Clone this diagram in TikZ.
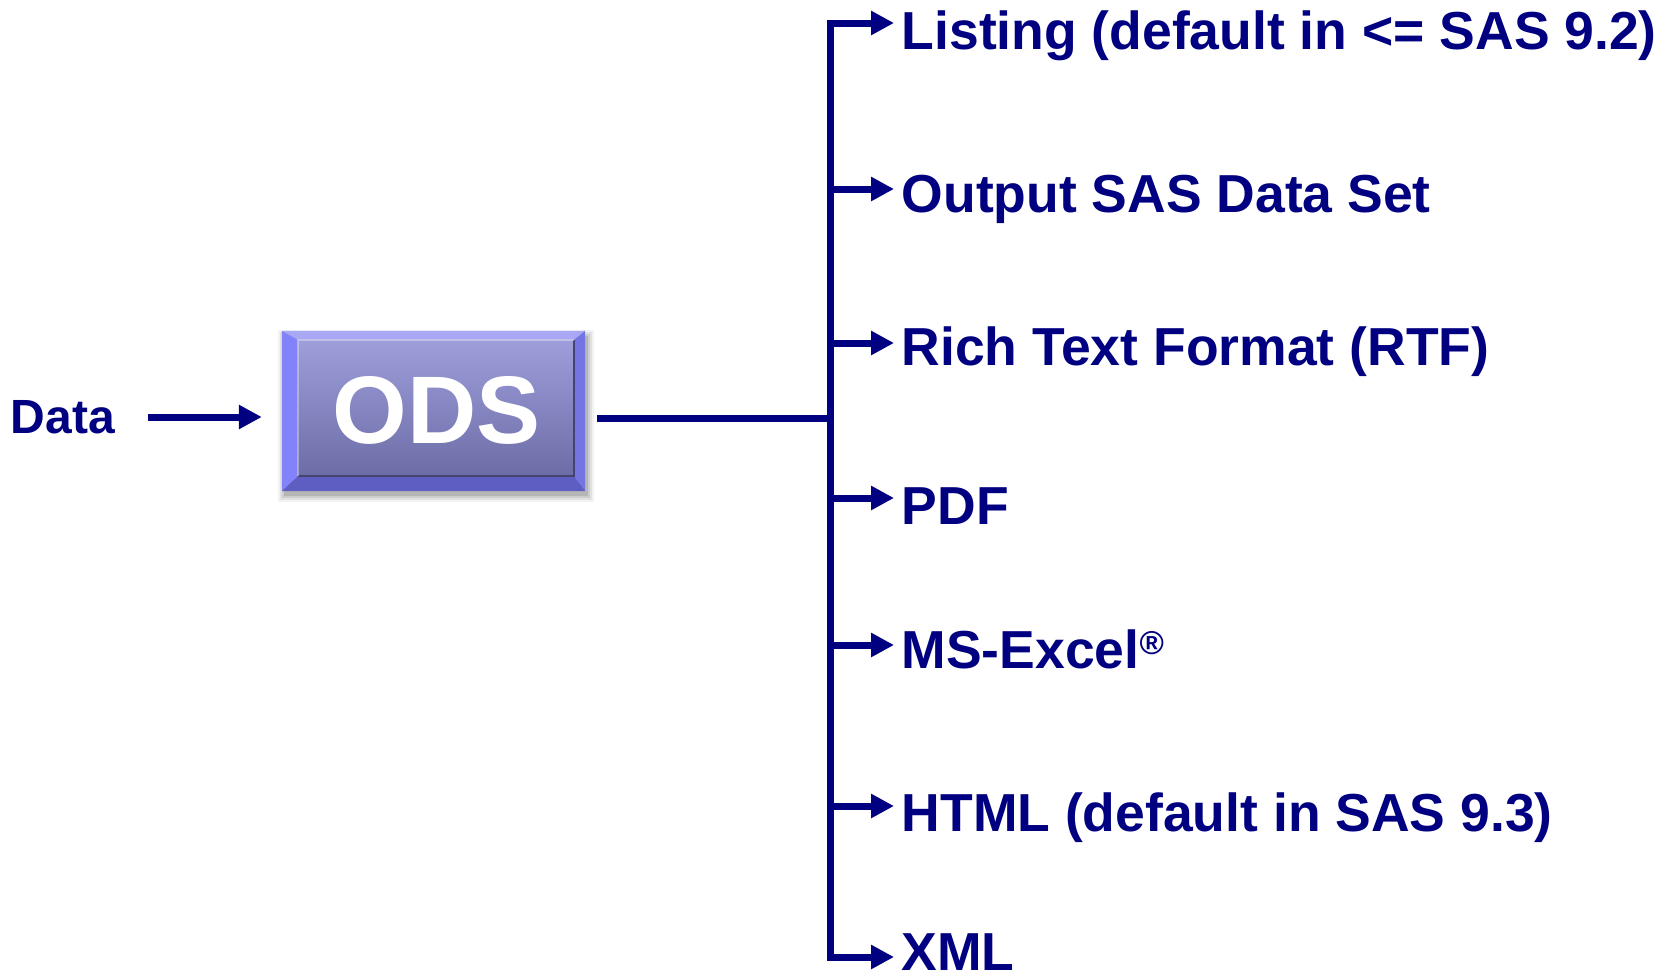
\documentclass[tikz,border=0pt]{standalone}
\usepackage{fontspec}
\setmainfont{Liberation Sans}
\usetikzlibrary{arrows.meta,backgrounds,calc}
\definecolor{navy}{RGB}{0,0,128}
\definecolor{bevtop}{HTML}{A8A8F4}
\definecolor{bevleft}{HTML}{8282FA}
\definecolor{bevright}{HTML}{7474E2}
\definecolor{bevbot}{HTML}{5E5EC2}
\definecolor{paneltop}{HTML}{9E9EDC}
\definecolor{panelbot}{HTML}{6C6CA6}
\definecolor{paneledge}{HTML}{44446E}
\begin{document}
\begin{tikzpicture}[x=1pt,y=-1pt,
  conn/.style={draw=navy, line width=7pt},
  tipend/.style={-{Triangle[length=23pt,width=23pt]}},
  outlabel/.style={anchor=west, inner xsep=7.5pt, inner ysep=0pt,
    text height=#1, text depth=0pt,
    font=\fontsize{53.5}{60}\selectfont\bfseries, text=navy},
  outlabel/.default=52pt,
  datalabel/.style={anchor=west, inner sep=0pt, text height=32pt, text depth=0pt,
    font=\fontsize{48}{52}\selectfont\bfseries, text=navy},
  odsbox/.style={minimum width=303pt, minimum height=160pt, inner sep=0pt,
    text height=69pt, text depth=4pt,
    font=\fontsize{96}{100}\selectfont\bfseries, text=white},
]
\useasboundingbox (0,0) rectangle (1671,975);

% nodes
\node[datalabel] (data) at (10.5,417) {Data};
\node[odsbox] (ods) at (433.5,411) {\hspace*{7pt}ODS};
\coordinate (hub) at (830,418);

\node[outlabel=52pt] (t1) at (894,23) {Listing (default in <= SAS 9.2)};
\node[outlabel=46pt] (t2) at (894,189) {Output SAS Data Set};
\node[outlabel=44pt] (t3) at (894,343) {Rich Text Format (RTF)};
\node[outlabel=52pt] (t4) at (894,498) {PDF};
\node[outlabel=46pt] (t5) at (894,645) {MS-Excel\raisebox{14pt}{\fontsize{33}{33}\selectfont ®}};
\node[outlabel=50pt] (t6) at (894,806) {HTML (default in SAS 9.3)};
\node[outlabel=26pt] (t7) at (894,957) {XML};

% ODS box rendering
\begin{scope}[on background layer]
  \foreach \e/\o in {6/0.05,4/0.07,2/0.09,0/0.11}{
    \fill[black, opacity=\o]
      ($(ods.north west)+(2-\e,5-\e)$) rectangle ($(ods.south east)+(3+\e,5+\e)$);
  }
  \coordinate (oA) at (ods.north west);
  \coordinate (oB) at (ods.north east);
  \coordinate (oC) at (ods.south east);
  \coordinate (oD) at (ods.south west);
  \coordinate (ia) at ($(ods.north west)+(16,9)$);
  \coordinate (ib) at ($(ods.north east)+(-11,9)$);
  \coordinate (ic) at ($(ods.south east)+(-11,-15)$);
  \coordinate (id) at ($(ods.south west)+(16,-15)$);
  \fill[bevtop] (oA) -- (oB) -- (ib) -- (ia) -- cycle;
  \fill[bevleft] (oA) -- (ia) -- (id) -- (oD) -- cycle;
  \fill[bevright] (oB) -- (oC) -- (ic) -- (ib) -- cycle;
  \fill[bevbot] (oD) -- (id) -- (ic) -- (oC) -- cycle;
  \shade[top color=paneltop, bottom color=panelbot] (ia) rectangle (ic);
  \draw[paneledge, line width=1.5pt] (ib) -- (ic) -- (id);
  \draw[white, opacity=0.35, line width=1.5pt] (id) -- (ia) -- (ib);
\end{scope}

% connectors
\draw[conn, tipend, shorten <=33.5pt, shorten >=20pt] (data.east) -- (data.east -| ods.west);
\draw[conn, shorten <=12pt] (ods.east |- hub) -- (hub);
\draw[conn, {Triangle[length=23pt,width=23pt]}-{Triangle[length=23pt,width=23pt]}]
  (t1.west) -| (hub) |- (t7.west);
\foreach \t in {t2,t3,t4,t5,t6}{
  \draw[conn, tipend] (\t.west -| hub) -- (\t.west);
}
\end{tikzpicture}
\end{document}
